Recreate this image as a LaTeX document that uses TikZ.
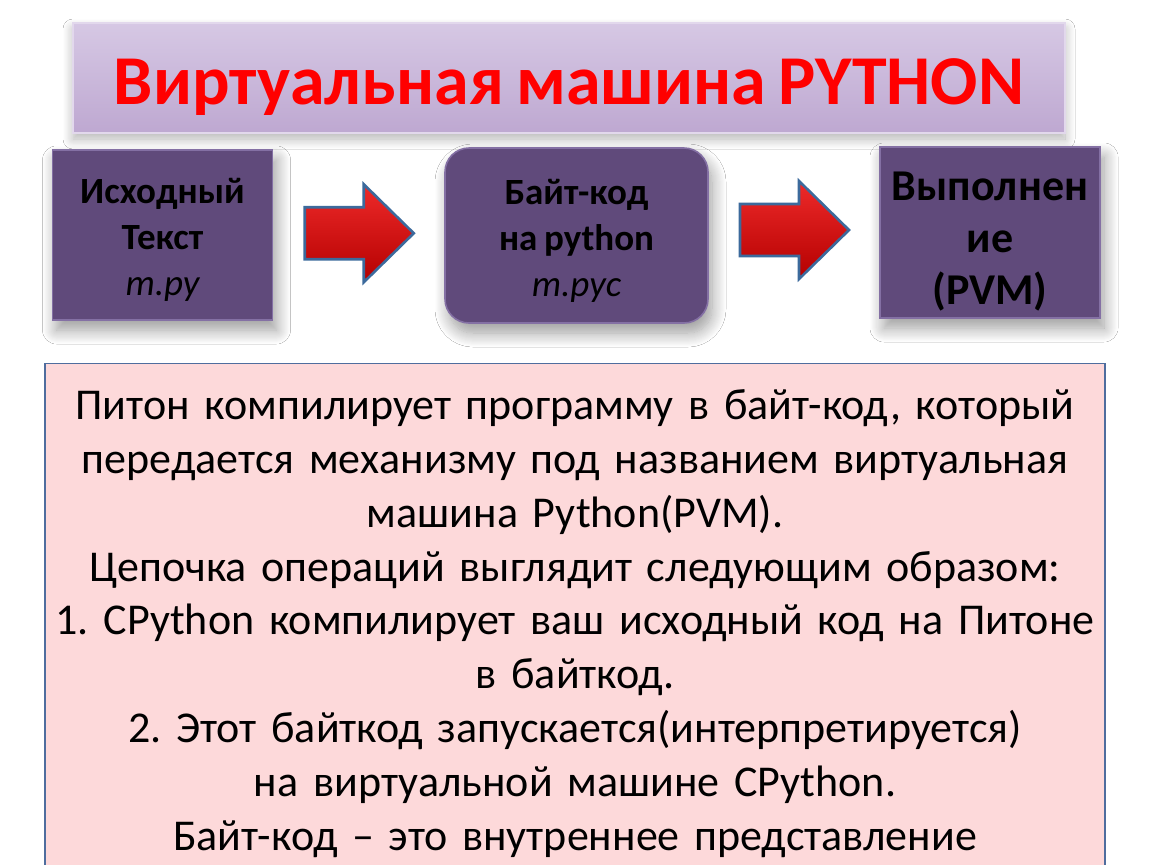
\documentclass[tikz,border=0pt]{standalone}
\usepackage{fontspec}
\setmainfont{Carlito}[WordSpace=0.8]
\usetikzlibrary{calc,shadows.blur}

\definecolor{boxpurple}{HTML}{604A7B}
\definecolor{boxedge}{HTML}{8470A4}
\definecolor{bannertop}{HTML}{D6C8E4}
\definecolor{bannerbot}{HTML}{BEA8D1}
\definecolor{bannerline}{HTML}{E2D8EC}
\definecolor{notepink}{HTML}{FDD9DA}
\definecolor{noteedge}{HTML}{4F6D9E}
\definecolor{arrowedge}{HTML}{3C6A9C}
\definecolor{arrowtop}{HTML}{EE2A2A}
\definecolor{arrowbot}{HTML}{B40000}

\tikzset{
  banner/.style={draw=bannerline, line width=0.6pt, top color=bannertop, bottom color=bannerbot,
    minimum width=496pt, minimum height=55pt, inner sep=0pt,
    blur shadow={shadow xshift=0pt, shadow yshift=-3pt, shadow blur radius=5pt, shadow opacity=30, shadow blur steps=12}},
  bannertext/.style={font=\fontsize{35}{40}\selectfont\bfseries, text=red},
  stagebox/.style={draw=boxedge, line width=0.8pt, fill=boxpurple,
    minimum width=110pt, minimum height=85pt, inner sep=0pt,
    blur shadow={shadow xshift=2pt, shadow yshift=-5pt, shadow blur radius=7pt, shadow opacity=40, shadow blur steps=14}},
  stagetext/.style={align=center, inner sep=0pt, font=\fontsize{18.5}{23}\selectfont\bfseries},
  redarrow/.style={draw=arrowedge, line width=1.3pt, top color=arrowtop, bottom color=arrowbot, line join=miter},
  notebox/.style={draw=noteedge, line width=0.6pt, fill=notepink, align=center,
    text width=522pt, minimum height=260pt, inner xsep=4pt, inner ysep=6pt, anchor=north,
    font=\fontsize{22}{26.9}\selectfont\frenchspacing}
}

\begin{document}
\begin{tikzpicture}[x=0.5pt, y=-0.5pt]
    \useasboundingbox [fill=white] (0,0) rectangle (1150,864);
    % header
    \node [banner] (banner) at (569,78) {};
    \node [bannertext] (head) at ($(banner.center)+(0,9)$) {Виртуальная машина PYTHON};
    % stages
    \node [stagebox] (src) at (162.5,235) {};
    \node [stagetext] (srctext) at ($(src.center)+(0,5)$) {Исходный\\Текст\\\normalfont\itshape m.py};
    \node [stagebox, rounded corners=12pt, minimum width=131.5pt, minimum height=87.5pt] (byte) at (576.5,235.5) {};
    \node [stagetext] (bytetext) at ($(byte.center)+(0,5)$) {Байт-код\\на python\\\normalfont\itshape m.pyc};
    \node [stagebox, minimum height=85.5pt] (pvm) at (990,232.5) {};
    \node [stagetext, font=\fontsize{22}{26}\selectfont\bfseries] (pvmtext) at ($(pvm.center)+(0,9)$)
        {Выполнен\\ие\\(PVM)};
    % block arrows
    \coordinate (ar1) at ($(src.east)!0.5!(byte.west)+(0,-2)$);
    \coordinate (ar2) at ($(byte.east)!0.5!(pvm.west)+(0,-4)$);
    \foreach \a in {ar1,ar2}
        \draw [redarrow, shift={(\a)}] (-54,-26) -- (5,-26) -- (5,-49) -- (55,0) -- (5,49) -- (5,26) -- (-54,26) -- cycle;
    % explanation
    \node [notebox] (note) at (575,363) {Питон компилирует программу в байт-код, который\\
        передается механизму под названием виртуальная\\
        машина Python(PVM).\\
        Цепочка операций выглядит следующим образом:\\
        1. CPython компилирует ваш исходный код на Питоне\\
        в байткод.\\
        2. Этот байткод запускается(интерпретируется)\\
        на виртуальной машине CPython.\\
        Байт-код – это внутреннее представление};
\end{tikzpicture}
\end{document}
